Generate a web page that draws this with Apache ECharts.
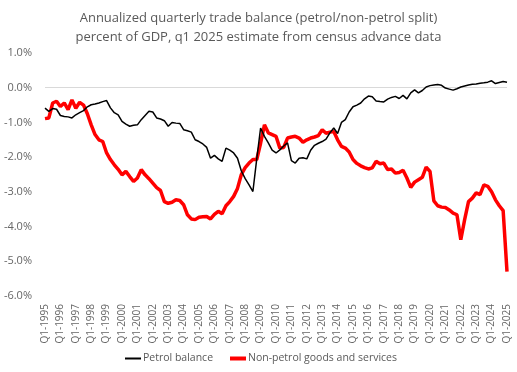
<!DOCTYPE html>
<html>
<head>
<meta charset="utf-8">
<script src="https://cdn.jsdelivr.net/npm/echarts@6/dist/echarts.min.js"></script>
<style>html,body{margin:0;padding:0;background:#fff}#c{width:517px;height:372px}</style>
</head>
<body>
<div id="c"></div>
<script>
var years = [1995,1996,1997,1998,1999,2000,2001,2002,2003,2004,2005,2006,2007,2008,2009,2010,2011,2012,2013,2014,2015,2016,2017,2018,2019,2020,2021,2022,2023,2024,2025];
var quarters = ['Q1','Q2','Q3','Q4'];
var petrolBalance = [
-0.59,-0.68,-0.60,-0.62,-0.80,-0.83,-0.84,-0.87,-0.78,-0.72,-0.66,-0.55,-0.49,-0.47,-0.44,-0.40,
-0.37,-0.58,-0.72,-0.78,-0.97,-1.05,-1.11,-1.08,-1.07,-0.92,-0.80,-0.68,-0.70,-0.87,-0.90,-0.95,
-1.11,-1.00,-1.02,-1.03,-1.21,-1.24,-1.28,-1.50,-1.55,-1.62,-1.72,-2.03,-1.95,-2.05,-2.12,-1.74,
-1.80,-1.88,-2.03,-2.40,-2.62,-2.80,-2.99,-2.05,-1.16,-1.40,-1.59,-1.80,-1.88,-1.79,-1.68,-1.59,
-2.10,-2.17,-2.03,-2.02,-2.05,-1.80,-1.66,-1.60,-1.55,-1.48,-1.30,-1.16,-1.32,-1.00,-0.92,-0.70,
-0.55,-0.50,-0.44,-0.32,-0.24,-0.26,-0.38,-0.40,-0.41,-0.33,-0.28,-0.25,-0.31,-0.22,-0.32,-0.15,
-0.06,-0.15,-0.08,0.02,0.06,0.08,0.09,0.07,-0.01,-0.04,-0.07,-0.03,0.02,0.05,0.08,0.10,
0.11,0.13,0.14,0.16,0.20,0.12,0.15,0.18,0.16
];
var nonPetrol = [
-0.89,-0.87,-0.44,-0.39,-0.54,-0.44,-0.63,-0.35,-0.59,-0.42,-0.50,-0.75,-1.07,-1.35,-1.50,-1.55,
-1.88,-2.07,-2.22,-2.35,-2.51,-2.41,-2.56,-2.70,-2.60,-2.36,-2.51,-2.62,-2.75,-2.88,-2.96,-3.28,
-3.33,-3.30,-3.23,-3.25,-3.37,-3.66,-3.78,-3.80,-3.73,-3.72,-3.71,-3.78,-3.65,-3.56,-3.63,-3.40,
-3.28,-3.13,-2.90,-2.50,-2.30,-2.17,-2.07,-2.07,-1.60,-1.07,-1.30,-1.35,-1.40,-1.74,-1.72,-1.45,
-1.42,-1.40,-1.45,-1.57,-1.50,-1.45,-1.42,-1.38,-1.21,-1.31,-1.28,-1.26,-1.50,-1.69,-1.74,-1.85,
-2.07,-2.18,-2.25,-2.30,-2.34,-2.31,-2.12,-2.19,-2.17,-2.36,-2.34,-2.46,-2.44,-2.38,-2.60,-2.87,
-2.72,-2.65,-2.58,-2.29,-2.41,-3.26,-3.40,-3.44,-3.45,-3.52,-3.61,-3.66,-4.38,-3.80,-3.28,-3.18,
-3.03,-3.08,-2.80,-2.84,-3.00,-3.23,-3.40,-3.54,-5.30
];
var seriesNames = ['Petrol balance','Non-petrol goods and services'];
var titleLines = ['Annualized quarterly trade balance (petrol/non-petrol split)','percent of GDP, q1 2025 estimate from census advance data'];

var categories = [];
years.forEach(function(y){ quarters.forEach(function(q){ categories.push(q + '-' + y); }); });
categories = categories.slice(0, petrolBalance.length);

var font = 'Open Sans, Liberation Sans, Arial, sans-serif';
var chart = echarts.init(document.getElementById('c'), null, {renderer:'canvas'});
chart.setOption({
  animation:false,
  backgroundColor:'#fff',
  title:{
    text: titleLines.join('\n'),
    left:'center', top:4,
    textStyle:{fontFamily:font, fontSize:13, fontWeight:'normal', color:'#595959', lineHeight:19}
  },
  legend:[
    {left:120, bottom:3, itemWidth:16, itemHeight:2, itemGap:4, icon:'rect',
     textStyle:{fontFamily:font, fontSize:10.5, color:'#595959', padding:[0,0,0,-3]},
     data:[{name:seriesNames[0], itemStyle:{color:'#000'}}]},
    {left:225, bottom:3, itemWidth:16, itemHeight:4, itemGap:4, icon:'rect',
     textStyle:{fontFamily:font, fontSize:10.5, color:'#595959', padding:[0,0,0,-3]},
     data:[{name:seriesNames[1], itemStyle:{color:'#ff0000'}}]}
  ],
  grid:{left:45, right:10, top:53, bottom:76, containLabel:false},
  xAxis:{
    type:'category', data:categories, boundaryGap:false,
    axisLine:{show:false, onZero:false}, axisTick:{show:false},
    axisLabel:{interval:3, rotate:90, fontFamily:font, fontSize:10, color:'#666666', margin:8}
  },
  yAxis:{
    type:'value', min:-6, max:1, interval:1,
    axisLine:{show:false}, axisTick:{show:false}, splitLine:{show:false},
    axisLabel:{formatter:function(v){return v.toFixed(1)+'%';}, fontFamily:font, fontSize:11, color:'#666666', margin:13}
  },
  series:[
    {name:seriesNames[0], type:'line', data:petrolBalance, symbol:'none',
     lineStyle:{color:'#000', width:1.5}, itemStyle:{color:'#000'}, z:3,
     markLine:{silent:true, symbol:'none', label:{show:false}, lineStyle:{color:'#d9d9d9', width:1, type:'solid'}, data:[{yAxis:0}], z:1}},
    {name:seriesNames[1], type:'line', data:nonPetrol, symbol:'none',
     lineStyle:{color:'#ff0000', width:3.5}, itemStyle:{color:'#ff0000'}, z:2}
  ]
});
</script>
</body>
</html>
